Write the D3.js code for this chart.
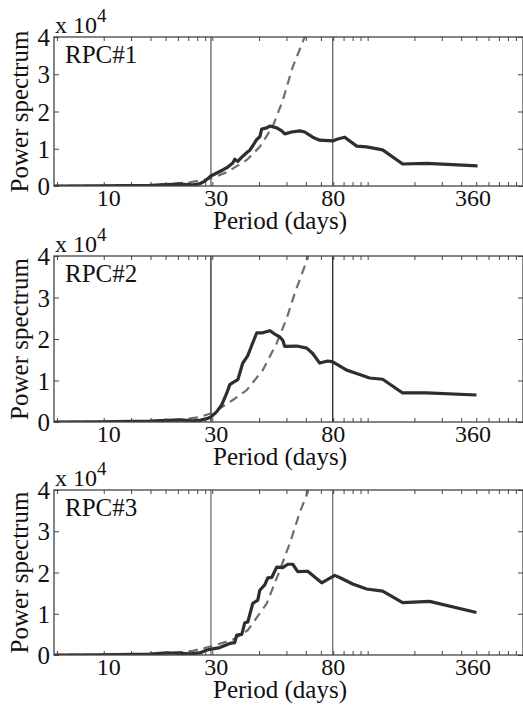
<!DOCTYPE html>
<html>
<head>
<meta charset="utf-8">
<script src="https://cdn.jsdelivr.net/npm/d3@7"></script>
<style>
html,body{margin:0;padding:0;background:#fff;}
svg{display:block;}
</style>
</head>
<body>
<svg id="chart" width="523" height="705"></svg>
<script>
// ---- data (x: log-scale position index, y: power spectrum x 10^4) ----
const panelNames = ["RPC#1", "RPC#2", "RPC#3"];

const rpc1SolidX = [0.0957,0.189,0.396,0.510,0.618,0.749,0.831,0.895,0.978,1.069,1.168,1.258,1.355,1.395,1.459,1.571,1.692,1.742,1.822,1.933,2.021,2.081,2.241,2.343,2.599,2.799,2.926,3.245,3.653,3.935,4.430,4.913,5.956,6.414,7.114,8.50,9.85,12.49,16.80,23.96,50.98];
const rpc1SolidY = [0,0.005,0.02,0.04,0.05,0.03,0.06,0.13,0.27,0.35,0.43,0.51,0.62,0.72,0.66,0.80,0.92,0.96,1.08,1.25,1.32,1.53,1.56,1.61,1.56,1.48,1.40,1.45,1.48,1.45,1.31,1.23,1.21,1.26,1.31,1.07,1.05,0.97,0.59,0.61,0.54];
const rpc1DashX = [0.0957,0.254,0.396,0.510,0.717,0.978,1.240,1.667,2.021,2.449,2.841,3.294,3.935,4.30];
const rpc1DashY = [0,0.005,0.02,0.05,0.10,0.20,0.37,0.70,1.05,1.60,2.30,3.20,4.00,4.40];

const rpc2SolidX = [0.0957,0.189,0.396,0.510,0.618,0.749,0.831,0.922,0.978,1.069,1.151,1.240,1.296,1.355,1.459,1.571,1.692,1.795,1.849,1.933,2.113,2.343,2.523,2.717,2.841,2.926,3.495,4.054,4.430,4.913,5.532,5.956,7.328,8.50,10.30,12.49,16.80,23.96,50.2];
const rpc2SolidY = [0,0.005,0.02,0.04,0.05,0.03,0.04,0.08,0.12,0.25,0.42,0.70,0.90,0.95,1.02,1.42,1.60,1.85,1.97,2.15,2.15,2.20,2.12,2.05,1.97,1.82,1.83,1.78,1.65,1.42,1.47,1.45,1.25,1.17,1.06,1.03,0.70,0.70,0.65];
const rpc2DashX = [0.0957,0.254,0.396,0.618,0.831,1.007,1.355,1.667,2.113,2.599,3.014,3.393,4.114,4.30];
const rpc2DashY = [0,0.005,0.02,0.05,0.12,0.22,0.53,0.77,1.25,1.90,2.50,3.10,3.95,4.30];

const rpc3SolidX = [0.0957,0.189,0.396,0.510,0.618,0.717,0.831,0.922,1.007,1.117,1.296,1.395,1.436,1.548,1.618,1.692,1.822,1.962,2.021,2.176,2.275,2.413,2.599,2.841,3.059,3.294,3.547,4.114,5.061,6.136,6.606,8.008,9.85,12.49,16.80,25.04,50.2];
const rpc3SolidY = [0,0.005,0.02,0.05,0.04,0.03,0.05,0.12,0.15,0.18,0.28,0.30,0.48,0.50,0.78,0.80,1.25,1.33,1.57,1.70,1.87,1.88,2.13,2.12,2.20,2.20,2.02,2.03,1.75,1.93,1.88,1.72,1.60,1.55,1.27,1.30,1.03];
const rpc3DashX = [0.0957,0.254,0.4596,0.749,1.007,1.355,1.692,2.241,2.717,3.150,3.653,4.114,4.30];
const rpc3DashY = [0,0.005,0.03,0.10,0.22,0.37,0.60,1.25,2.05,2.70,3.45,3.95,4.30];

const solidX = [rpc1SolidX, rpc2SolidX, rpc3SolidX];
const solidY = [rpc1SolidY, rpc2SolidY, rpc3SolidY];
const dashX = [rpc1DashX, rpc2DashX, rpc3DashX];
const dashY = [rpc1DashY, rpc2DashY, rpc3DashY];

const bandLines = [0.98, 5.96];            // vertical markers (30 and 80 days)
const xLabelPos = [0.214, 1.053, 5.96, 47.3];
const xLabels = ["10", "30", "80", "360"];
const yTicks = [0, 1, 2, 3, 4];
const xDomain = [0.0957, 100];
const yDomain = [0, 4];

// ---- layout ----
const FONT = "Liberation Serif";
const svg = d3.select("#chart");
const left = 54, right = 523;
const panels = [{top:37,bottom:186},{top:256,bottom:422},{top:490,bottom:655}];
const vlineColors = ["#555", "#111", "#666"];

const x = d3.scaleLog().domain(xDomain).range([left, right]);

panels.forEach((p, i) => {
  const y = d3.scaleLinear().domain(yDomain).range([p.bottom, p.top]);
  const g = svg.append("g");
  const clipId = "clip" + i;
  svg.append("clipPath").attr("id", clipId).append("rect")
    .attr("x", left).attr("y", p.top).attr("width", right - left).attr("height", p.bottom - p.top);

  g.selectAll(".vl").data(bandLines).join("line")
    .attr("x1", d => x(d)).attr("x2", d => x(d))
    .attr("y1", p.top).attr("y2", p.bottom)
    .attr("stroke", vlineColors[i]).attr("stroke-width", 1.2);

  const line = d3.line().x(d => x(d[0])).y(d => y(d[1]));
  const dashData = dashX[i].map((v, k) => [v, dashY[i][k]]);
  const solidData = solidX[i].map((v, k) => [v, solidY[i][k]]);

  g.append("path").datum(dashData).attr("d", line)
    .attr("clip-path", `url(#${clipId})`)
    .attr("fill", "none").attr("stroke", "#6e6e6e").attr("stroke-width", 2.2)
    .attr("stroke-dasharray", "9,6");
  g.append("path").datum(solidData).attr("d", line)
    .attr("clip-path", `url(#${clipId})`)
    .attr("fill", "none").attr("stroke", "#2e2e2e").attr("stroke-width", 3.2)
    .attr("stroke-linejoin", "round");

  const tv = x.ticks().filter(d => d > xDomain[0] && d < xDomain[1]);
  const axB = g.append("g").attr("transform", `translate(0,${p.bottom})`)
    .call(d3.axisBottom(x).tickValues(tv).tickSize(-4).tickFormat(""));
  const axT = g.append("g").attr("transform", `translate(0,${p.top})`)
    .call(d3.axisTop(x).tickValues(tv).tickSize(-4).tickFormat(""));
  [axB, axT].forEach(a => { a.select(".domain").remove(); a.selectAll("line").attr("stroke", "#444"); });

  const axL = g.append("g").attr("transform", `translate(0,${p.bottom})`)
    .call(d3.axisBottom(x).tickValues(xLabelPos).tickSize(0).tickFormat((d, k) => xLabels[k]));
  axL.attr("font-family", FONT).attr("font-size", 24);
  axL.select(".domain").remove();
  axL.selectAll("text").attr("y", 20).attr("dy", 0)
    .attr("font-family", FONT).attr("font-size", 24).attr("fill", "#111");

  const axY = g.append("g").attr("transform", `translate(${left},0)`)
    .call(d3.axisLeft(y).tickValues(yTicks).tickSize(-5).tickPadding(4).tickFormat(d3.format("d")));
  axY.attr("font-family", FONT).attr("font-size", 25);
  axY.select(".domain").remove();
  axY.selectAll("line").attr("stroke", "#444");
  axY.selectAll("text").attr("dy", "0.34em").attr("font-size", 25)
    .attr("font-family", FONT).attr("fill", "#111");
  const axR = g.append("g").attr("transform", `translate(${right},0)`)
    .call(d3.axisRight(y).tickValues(yTicks).tickSize(-5).tickFormat(""));
  axR.select(".domain").remove();
  axR.selectAll("line").attr("stroke", "#444");

  g.append("rect").attr("x", left).attr("y", p.top)
    .attr("width", right - left).attr("height", p.bottom - p.top)
    .attr("fill", "none").attr("stroke", "#444").attr("stroke-width", 1.3);

  g.append("text").attr("x", 65).attr("y", p.top + 26).attr("fill", "#111")
    .attr("font-family", FONT).attr("font-size", 25).text(panelNames[i]);
  const ex = g.append("text").attr("x", 55).attr("y", p.top - 4).attr("fill", "#111")
    .attr("font-family", FONT).attr("font-size", 24);
  ex.append("tspan").text("x 10");
  ex.append("tspan").attr("dy", -11).attr("font-size", 19).text("4");
  g.append("text").attr("x", 280).attr("y", p.bottom + 43).attr("text-anchor", "middle").attr("fill", "#111")
    .attr("font-family", FONT).attr("font-size", 25).text("Period (days)");
  g.append("text").attr("transform", `translate(28,${(p.top + p.bottom) / 2}) rotate(-90)`).attr("fill", "#111")
    .attr("text-anchor", "middle").attr("font-family", FONT).attr("font-size", 25).text("Power spectrum");
});
</script>
</body>
</html>
